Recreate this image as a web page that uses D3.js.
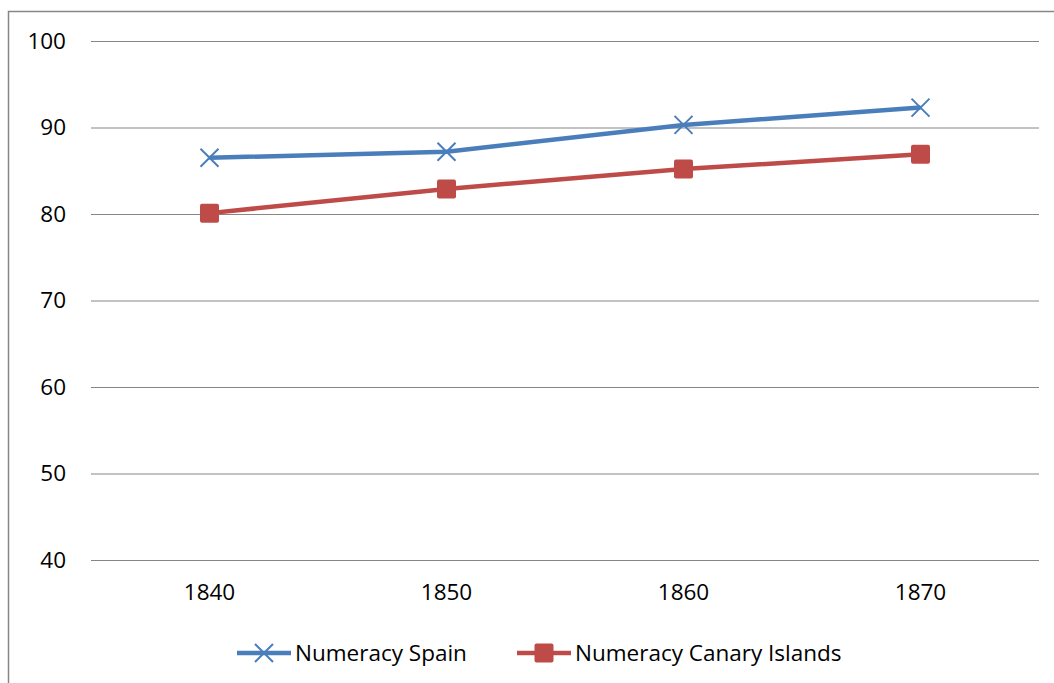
<!DOCTYPE html>
<html>
<head>
<meta charset="utf-8">
<script src="https://cdn.jsdelivr.net/npm/d3@7"></script>
<style>
  body { margin: 0; background: #fff; }
  svg text { font-family: "Open Sans", "Noto Sans", sans-serif; fill: #000; }
</style>
</head>
<body>
<div id="chart"></div>
<script>
var years = ["1840", "1850", "1860", "1870"];
var spain = [86.5, 87.2, 90.3, 92.3];
var canary = [80.1, 82.9, 85.2, 86.9];
var yTicks = [40, 50, 60, 70, 80, 90, 100];

var width = 1054, height = 683;
var margin = {top: 41, right: 15, bottom: 123, left: 91};
var fontSize = "22.5px";

var svg = d3.select("#chart").append("svg")
    .attr("width", width)
    .attr("height", height);

// outer frame
svg.append("rect")
    .attr("x", 8.5).attr("y", 11.5)
    .attr("width", width + 10).attr("height", height + 10)
    .attr("fill", "none")
    .attr("stroke", "#868686")
    .attr("stroke-width", 1.5);

var x = d3.scaleBand()
    .domain(years)
    .range([margin.left, width - margin.right]);

var y = d3.scaleLinear()
    .domain([40, 100])
    .range([height - margin.bottom, margin.top]);

// gridlines + y labels
var yAxis = d3.axisLeft(y)
    .tickValues(yTicks)
    .tickSize(-(width - margin.right - margin.left))
    .tickPadding(25);

svg.append("g")
    .attr("transform", `translate(${margin.left},0)`)
    .call(yAxis)
    .call(g => g.select(".domain").remove())
    .call(g => g.selectAll(".tick line").attr("stroke", "#868686").attr("stroke-width", 1))
    .call(g => g.selectAll(".tick text").style("font-size", fontSize).attr("fill", "#000"));

// x labels
var xAxis = d3.axisBottom(x).tickSize(0).tickPadding(24);
svg.append("g")
    .attr("transform", `translate(0,${y(40)})`)
    .call(xAxis)
    .call(g => g.select(".domain").remove())
    .call(g => g.selectAll(".tick text").style("font-size", fontSize).attr("fill", "#000"));

var series = [
  {name: "Numeracy Spain", values: spain, color: "#4A7EBB", marker: "x"},
  {name: "Numeracy Canary Islands", values: canary, color: "#BE4B48", marker: "square"}
];

var line = d3.line()
    .x((d, i) => x(years[i]) + x.bandwidth() / 2)
    .y(d => y(d));

function drawMarker(g, type, color) {
  if (type === "x") {
    g.append("path")
      .attr("d", "M-9,-9L9,9M-9,9L9,-9")
      .attr("stroke", color)
      .attr("stroke-width", 2)
      .attr("fill", "none");
  } else {
    g.append("rect")
      .attr("x", -9.5).attr("y", -9.5)
      .attr("width", 19).attr("height", 19)
      .attr("rx", 2)
      .attr("fill", color);
  }
}

series.forEach(s => {
  svg.append("path")
    .datum(s.values)
    .attr("d", line)
    .attr("fill", "none")
    .attr("stroke", s.color)
    .attr("stroke-width", 4.5)
    .attr("stroke-linejoin", "round");

  svg.append("g").selectAll("g")
    .data(s.values)
    .join("g")
    .attr("transform", (d, i) => `translate(${x(years[i]) + x.bandwidth() / 2},${y(d)})`)
    .each(function() { drawMarker(d3.select(this), s.marker, s.color); });
});

// legend
var legendX = [237, 517];
var legend = svg.append("g").attr("transform", "translate(0,653)");
series.forEach((s, i) => {
  var g = legend.append("g").attr("transform", `translate(${legendX[i]},0)`);
  g.append("line")
    .attr("x1", 0).attr("x2", 54)
    .attr("stroke", s.color)
    .attr("stroke-width", 4.5);
  var m = g.append("g").attr("transform", "translate(27,0)");
  drawMarker(m, s.marker, s.color);
  g.append("text")
    .attr("x", 58)
    .attr("dy", "0.35em")
    .style("font-size", fontSize)
    .text(s.name);
});
</script>
</body>
</html>
